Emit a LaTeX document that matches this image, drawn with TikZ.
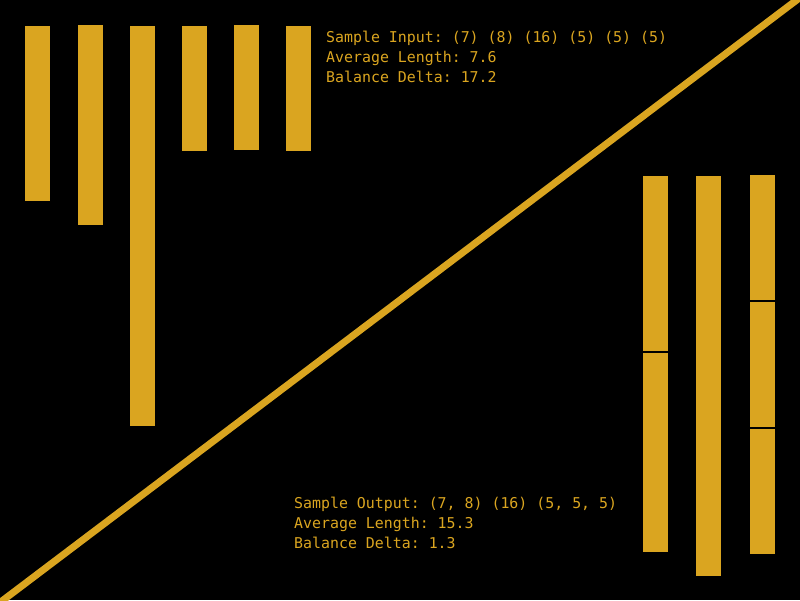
\documentclass[tikz,border=0pt]{standalone}
\usepackage{fontspec}
\setmonofont{DejaVu Sans Mono}
\usepackage{xcolor}
\definecolor{mgold}{RGB}{218, 165, 32}
\tikzset{bar/.style = {fill=mgold}}
\tikzset{info/.style = {anchor=base west, inner sep=0, text=mgold,
                        font=\ttfamily\fontsize{14.9}{20}\selectfont}}

\begin{document}
\begin{tikzpicture}[x=1pt, y=-1pt]
    \fill [black] (0, 0) rectangle (800, 600);
    \useasboundingbox (0, 0) rectangle (800, 600);

    \coordinate (low) at (-5, 606.25);
    \coordinate (high) at (805, -6.25);
    \draw [mgold, line width=7] (low) -- (high);

    % input pieces
    \fill [bar] (25, 26) rectangle ++(25, 175);
    \fill [bar] (78, 25) rectangle ++(25, 200);
    \fill [bar] (130, 26) rectangle ++(25, 400);
    \fill [bar] (182, 26) rectangle ++(25, 125);
    \fill [bar] (234, 25) rectangle ++(25, 125);
    \fill [bar] (286, 26) rectangle ++(25, 125);

    \node [info] (inA) at (326, 42) {Sample Input: (7) (8) (16) (5) (5) (5)};
    \node [info] (inB) at (326, 62) {Average Length: 7.6};
    \node [info] (inC) at (326, 82) {Balance Delta: 17.2};

    % output pieces
    \begin{scope}[shift={(643, 176)}]
      \fill [bar] (0, 0) rectangle ++(25, 175);
      \fill [bar] (0, 177) rectangle ++(25, 199);
    \end{scope}
    \fill [bar] (696, 176) rectangle ++(25, 400);
    \begin{scope}[shift={(750, 175)}]
      \fill [bar] (0, 0) rectangle ++(25, 125);
      \fill [bar] (0, 127) rectangle ++(25, 125);
      \fill [bar] (0, 254) rectangle ++(25, 125);
    \end{scope}

    \node [info] (outA) at (294, 508) {Sample Output: (7, 8) (16) (5, 5, 5)};
    \node [info] (outB) at (294, 528) {Average Length: 15.3};
    \node [info] (outC) at (294, 548) {Balance Delta: 1.3};
  \end{tikzpicture}
\end{document}
